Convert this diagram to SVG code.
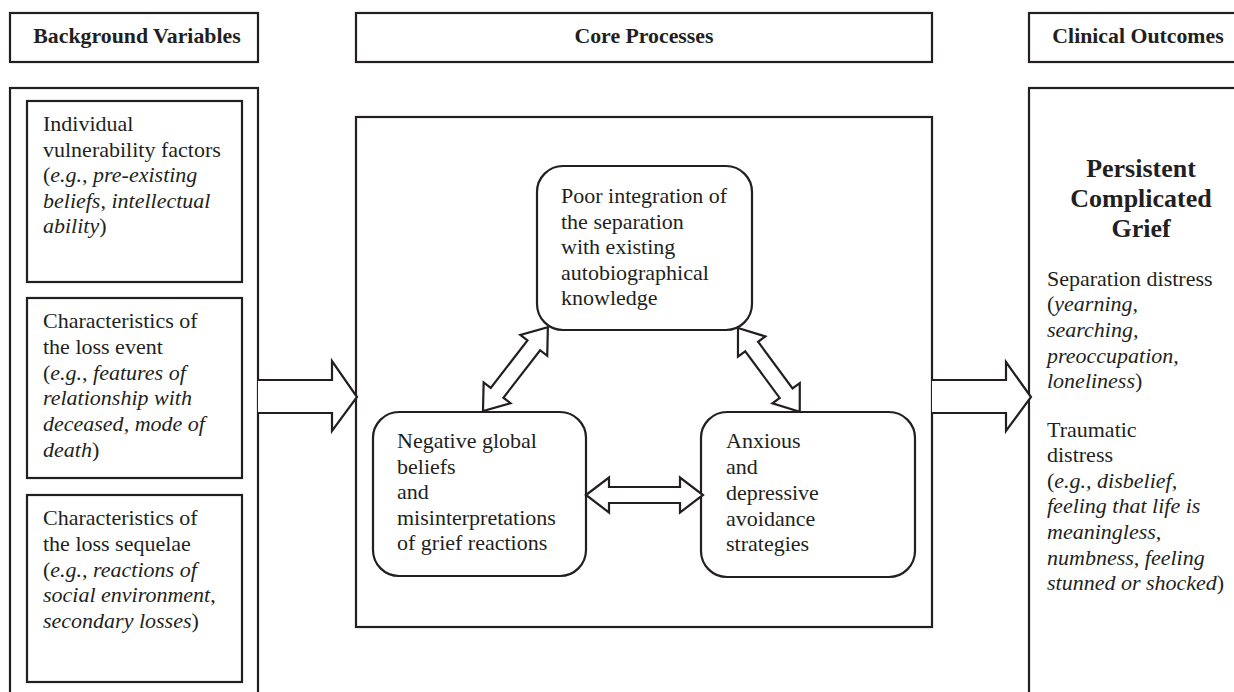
<svg xmlns="http://www.w3.org/2000/svg" width="1234" height="692" viewBox="0 0 1234 692">
<style>
.box{fill:#fff;stroke:#231f20;stroke-width:2.2}
.arr{fill:#fff;stroke:#231f20;stroke-width:2.2;stroke-linejoin:miter}
text{font-family:"Liberation Serif","Times New Roman",serif;fill:#231f20;font-size:22px}
.h{font-weight:bold;font-size:21.8px;text-anchor:middle}
.t{font-weight:bold;font-size:26px;text-anchor:middle}
.i{font-style:italic}
</style>
<rect width="1234" height="692" fill="#fff"/>
<g id="header-background"><rect class="box" x="10" y="13" width="248" height="49"/><text class="h" x="137" y="43">Background Variables</text></g>
<g id="header-core"><rect class="box" x="356" y="13" width="576" height="49"/><text class="h" x="644" y="43">Core Processes</text></g>
<g id="header-clinical"><rect class="box" x="1029" y="13" width="230" height="49"/><text class="h" x="1138" y="43">Clinical Outcomes</text></g>
<g id="background-panel"><rect class="box" x="10" y="88" width="248" height="640"/></g>
<g id="vulnerability"><rect class="box" x="27" y="101" width="215" height="181"/>
<text x="43" y="131">Individual</text>
<text x="43" y="156.5">vulnerability factors</text>
<text x="43" y="182">(<tspan class="i">e.g., pre-existing</tspan></text>
<text x="43" y="207.5"><tspan class="i">beliefs</tspan>, <tspan class="i">intellectual</tspan></text>
<text x="43" y="233"><tspan class="i">ability</tspan>)</text>
</g>
<g id="loss-event"><rect class="box" x="27" y="298" width="215" height="180"/>
<text x="43" y="328">Characteristics of</text>
<text x="43" y="354">the loss event</text>
<text x="43" y="379.5">(<tspan class="i">e.g., features of</tspan></text>
<text x="43" y="405"><tspan class="i">relationship with</tspan></text>
<text x="43" y="431"><tspan class="i">deceased</tspan>, <tspan class="i">mode of</tspan></text>
<text x="43" y="457"><tspan class="i">death</tspan>)</text>
</g>
<g id="loss-sequelae"><rect class="box" x="27" y="495" width="215" height="187"/>
<text x="43" y="525">Characteristics of</text>
<text x="43" y="551">the loss sequelae</text>
<text x="43" y="576.5">(<tspan class="i">e.g., reactions of</tspan></text>
<text x="43" y="602"><tspan class="i">social environment</tspan>,</text>
<text x="43" y="627.5"><tspan class="i">secondary losses</tspan>)</text>
</g>
<g id="core-panel"><rect class="box" x="356" y="117" width="576" height="510"/></g>
<g id="poor-integration"><rect class="box" x="537" y="166" width="215" height="164" rx="26"/>
<text x="561" y="203">Poor integration of</text>
<text x="561" y="228.5">the separation</text>
<text x="561" y="254">with existing</text>
<text x="561" y="279.5">autobiographical</text>
<text x="561" y="305">knowledge</text>
</g>
<g id="negative-beliefs"><rect class="box" x="373" y="412" width="213" height="164" rx="26"/>
<text x="397" y="448">Negative global</text>
<text x="397" y="473.5">beliefs</text>
<text x="397" y="499">and</text>
<text x="397" y="524.5">misinterpretations</text>
<text x="397" y="550">of grief reactions</text>
</g>
<g id="avoidance"><rect class="box" x="701" y="412" width="214" height="165" rx="26"/>
<text x="726" y="448">Anxious</text>
<text x="726" y="474">and</text>
<text x="726" y="500">depressive</text>
<text x="726" y="525.5">avoidance</text>
<text x="726" y="551">strategies</text>
</g>
<g id="clinical-panel"><rect class="box" x="1029" y="88" width="230" height="640"/>
<text class="t" x="1141" y="177">Persistent</text>
<text class="t" x="1141" y="207">Complicated</text>
<text class="t" x="1141" y="237">Grief</text>
<text x="1047" y="286">Separation distress</text>
<text x="1047" y="311">(<tspan class="i">yearning,</tspan></text>
<text x="1047" y="337"><tspan class="i">searching,</tspan></text>
<text x="1047" y="363"><tspan class="i">preoccupation,</tspan></text>
<text x="1047" y="388"><tspan class="i">loneliness</tspan>)</text>
<text x="1047" y="437">Traumatic</text>
<text x="1047" y="462">distress</text>
<text x="1047" y="488">(<tspan class="i">e.g., disbelief,</tspan></text>
<text x="1047" y="513"><tspan class="i">feeling that life is</tspan></text>
<text x="1047" y="539"><tspan class="i">meaningless,</tspan></text>
<text x="1047" y="565"><tspan class="i">numbness, feeling</tspan></text>
<text x="1047" y="590"><tspan class="i">stunned or shocked</tspan>)</text>
</g>
<g id="connectors">
<path class="arr" d="M258,380 H332 V361 L357,397 L332,431 V413 H258"/>
<path class="arr" d="M932,380 H1006 V362 L1031,397 L1006,431 V413 H932"/>
<polygon class="arr" transform="translate(483,411) rotate(-52.27)" points="0,0 23,-17 23,-8 83,-8 83,-17 106,0 83,17 83,8 23,8 23,17"/>
<polygon class="arr" transform="translate(738,328) rotate(53.57)" points="0,0 23,-17 23,-8 81,-8 81,-17 104,0 81,17 81,8 23,8 23,17"/>
<polygon class="arr" points="586,495 609,477.5 609,487 680,487 680,477.5 703,495 680,512.5 680,503 609,503 609,512.5"/>
</g>
</svg>
